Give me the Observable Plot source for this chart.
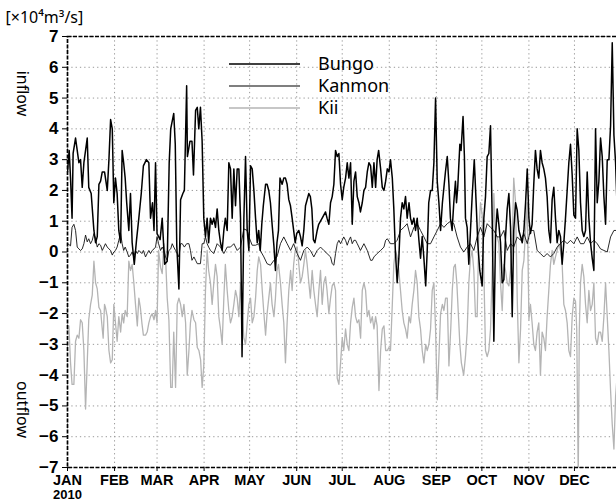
<!DOCTYPE html>
<html><head><meta charset="utf-8">
<script src="https://cdn.jsdelivr.net/npm/d3@7"></script>
<script src="https://cdn.jsdelivr.net/npm/@observablehq/plot@0.6"></script>
<style>html,body{margin:0;padding:0;background:#fff;overflow:hidden}#chart svg{display:block}</style>
</head><body><div id="chart"></div>
<script>
const year = 2010;
const monthLabels = ["JAN","FEB","MAR","APR","MAY","JUN","JUL","AUG","SEP","OCT","NOV","DEC"];
const yTicks = [-7,-6,-5,-4,-3,-2,-1,0,1,2,3,4,5,6,7];
const seriesNames = ["Bungo","Kanmon","Kii"];
const unitLabel = "[×10⁴m³/s]";
const inflowLabel = "inflow";
const outflowLabel = "outflow";

// [day of year (0 = Jan 1), flow ×10^4 m3/s]
const bungo = [[0,2.6],[1.1,3.3],[2,2.4],[3,1.1],[3.7,3.2],[5.3,3.7],[7.5,2.9],[8.6,3.0],[9.7,2.1],[10.8,2.9],[13,3.7],[14,2.1],[15.6,1.9],[17.4,0.7],[18.5,0.3],[19.6,0.5],[20.7,2.2],[21.8,2.3],[22.9,2.6],[24.4,2.6],[26.2,2.0],[27.3,3.0],[28.4,4.3],[29.5,4.0],[30.5,1.6],[31.6,2.4],[32.7,1.9],[33.8,0.7],[35,0.3],[36,3.3],[37,2.9],[38,2.4],[39,1.6],[40.4,0.7],[41.5,1.9],[42.6,0.3],[44,-0.4],[45.5,0.4],[47,1.1],[48.6,1.9],[50,2.8],[52,3.0],[53.6,2.9],[54.7,1.1],[56,1.6],[57,0.7],[58,2.9],[59,0.6],[61,0.4],[62.4,1.1],[64,-0.4],[65.7,-0.3],[67,2.9],[68,4.0],[70,4.5],[71,3.5],[72,0.2],[73.4,-1.2],[74.5,1.7],[76,1.9],[77,2.0],[78.5,5.4],[79,3.1],[80.7,3.6],[82,3.6],[83,2.5],[84.4,4.6],[85.5,4.7],[86.5,4.0],[87.6,4.7],[88.7,3.6],[89.8,1.1],[90.9,0.5],[92,1.1],[93,0.3],[94.2,1.1],[95.3,0.9],[96.4,1.1],[97.5,0.8],[98.6,1.4],[99.7,0.7],[100.8,0.3],[101.9,0.05],[103,0.7],[104,1.1],[105.2,0.7],[106.3,2.9],[107.4,2.7],[108.5,1.1],[109.6,2.7],[110.7,1.5],[111.8,2.7],[112.9,2.7],[114,1.1],[115,-3.4],[116.2,1.1],[117.3,3.1],[118.4,0.7],[119.5,0.05],[120.6,2.8],[121.7,2.7],[122.8,2.0],[123.9,1.1],[125,0.3],[126,0.7],[127,0.05],[128,0.9],[129,1.5],[130.5,2.2],[131.5,2.2],[132.6,2.0],[133.7,1.6],[134.8,0.9],[136,0.2],[137,-0.6],[138,0.3],[139,0.7],[140,2.4],[141.4,2.2],[142.5,2.4],[143.6,2.4],[144.7,2.2],[145.8,1.7],[146.9,1.5],[148,1.1],[149,0.7],[150,0.3],[151,0.6],[152.4,0.7],[153.5,0.5],[154.6,0.2],[155.7,0.7],[156.8,1.5],[159,1.9],[160,1.8],[161,1.4],[162,0.4],[163,0.3],[164.5,0.7],[165.5,0.9],[167.8,1.1],[170,1.3],[171,1.1],[172.2,0.9],[173.3,1.6],[174.4,1.8],[175.5,2.2],[176.6,3.3],[177.7,3.1],[178.8,3.2],[179.9,2.2],[181,1.7],[182,2.1],[183.2,2.4],[184.3,2.9],[185.4,2.4],[186.5,2.9],[187.6,0.9],[188.7,2.3],[189.8,2.6],[190.9,1.8],[192,1.6],[193,1.3],[194.2,1.6],[195.3,2.0],[196.4,2.1],[197.5,2.6],[198.6,2.9],[199.7,2.8],[200.8,2.1],[201.9,2.9],[203,2.1],[204,3.0],[205,3.3],[206.3,2.7],[207.4,2.1],[208.5,2.0],[209.6,2.3],[210.7,2.7],[211.8,2.6],[212.8,3.0],[214,2.4],[215,1.4],[216,0.05],[217.2,-1.0],[218.3,-0.2],[219.4,1.1],[220.5,1.6],[221.6,1.4],[222.7,1.8],[223.8,1.1],[225,1.6],[226,1.1],[227,0.9],[228.2,1.1],[229.3,0.7],[230.4,1.1],[231.5,0.4],[232.6,-0.2],[233.7,0.5],[234.8,-0.2],[236,-1.1],[237,0.05],[238,1.6],[239.2,2.0],[240.3,2.0],[241.4,2.9],[242.5,5.0],[243.6,2.3],[244.7,1.6],[245.8,0.7],[247,1.6],[248,2.1],[249,2.6],[250.2,3.1],[251.3,2.2],[252.3,1.1],[253.4,0.7],[254.5,1.6],[255.6,2.3],[256.3,1.6],[257.1,2.1],[258.5,3.5],[259.3,3.3],[260.6,4.4],[261.5,3.1],[262.2,1.1],[263.3,0.8],[264.4,-0.4],[265.5,0.7],[266.6,1.8],[268,3.0],[269.4,1.4],[270.3,0.3],[271.6,-0.6],[273.2,-1.1],[274.3,1.1],[275.4,1.8],[276.5,3.1],[277.6,3.2],[278.7,4.1],[279.8,1.1],[280.9,-2.9],[282,0.5],[283.1,1.4],[284.2,0.9],[285.3,0.3],[286.4,-1.0],[287.5,-0.9],[288.6,0.5],[289.7,1.4],[290.8,1.9],[291.9,0.8],[293,-2.1],[294,0.7],[295.2,1.6],[296.3,1.35],[297.4,0.7],[298.5,0.5],[299.6,0.3],[300.7,0.7],[301.8,1.6],[302.9,2.7],[304,1.1],[305,0.6],[306.1,0.9],[307.2,2.2],[308.3,3.3],[309.4,2.7],[310.5,2.4],[311.6,3.3],[312.7,2.9],[313.8,2.7],[314.9,2.4],[316,1.8],[317.1,0.7],[318.2,0.3],[319.3,1.7],[320.4,2.1],[321.5,1.1],[322.6,0.3],[323.7,0.7],[324.8,0.5],[325.9,-0.4],[327,0.3],[328.1,1.1],[329.2,2.0],[330.3,2.9],[331.4,3.5],[332.5,2.5],[333.6,1.2],[334.7,1.1],[335.8,4.0],[336.9,3.3],[338,1.6],[339.1,0.7],[340.2,0.5],[341.3,0.7],[342.4,2.6],[343.5,1.1],[344.6,0.3],[345.7,-0.2],[346.8,-0.6],[347.9,4.0],[349,1.6],[350.1,2.3],[351.2,3.7],[352.3,3.1],[353.4,1.8],[354.5,0.9],[355.6,3.0],[356.7,3.0],[357.8,4.1],[358.9,6.8],[360,3.8],[361.1,2.9],[362,1.6]];

const kanmon = [[0.2,0.27],[2,0.2],[3,0.8],[4.2,0.9],[5.3,0.7],[6.4,0.16],[7.5,0.1],[8.6,0.05],[9.7,0.1],[10.8,0.27],[11.9,0.55],[13,0.33],[14,0.43],[15.2,0.27],[16.3,0.38],[17.4,0.6],[18.5,0.43],[19.6,0.16],[20.7,0.27],[21.8,0.22],[22.9,0.05],[24,0.16],[25,0.27],[26.2,0.16],[27.3,0.1],[28.4,0.05],[29.5,-0.1],[30.5,0],[31.6,0.05],[32.7,0.16],[33.8,0.38],[35,0.6],[36,0.27],[37,0.05],[38,0.16],[39.3,0],[40.4,-0.16],[41.5,-0.1],[42.6,0],[43.7,-0.16],[44.8,0.05],[46,-0.05],[47,0.05],[48,0],[49,-0.05],[50,0.05],[51.4,-0.16],[52.5,-0.05],[53.6,0.05],[54.7,-0.05],[55.8,0.05],[57,0.1],[58,0.16],[59,0.5],[60,0.27],[61.3,0.05],[62.4,0.16],[63.5,0.05],[64.6,-0.16],[65.7,-0.27],[66.8,0.05],[68,0.1],[69,0.27],[70,0.16],[71.2,0.05],[72.3,-0.05],[73.4,-0.16],[74.5,0.27],[75.6,0.27],[77,0.16],[78.5,0.27],[80,0.27],[81,0.05],[82,-0.27],[83.3,-0.16],[84.4,-0.27],[85.5,-0.38],[87.6,-0.38],[88.7,0.27],[89.8,0.27],[90.9,0.49],[92,0.27],[93,0.16],[94.2,0.05],[96.4,-0.05],[98.6,0.27],[100.8,0.16],[103,-0.05],[105.2,0.16],[107.4,0.16],[109.6,0.27],[111.8,0.05],[114,0.16],[116.2,0.75],[118.4,0.7],[119.5,0.49],[121.7,0.22],[123.9,0.22],[126,0.27],[127,0.05],[129.4,-0.16],[131.5,-0.38],[133.7,-0.43],[136,-0.27],[138,-0.16],[140.3,0.27],[142.5,0.49],[144.7,0.27],[147,0.05],[149,0.27],[151.3,-0.05],[153.5,-0.27],[155.7,0.05],[157.9,0.16],[160,0.05],[162.3,-0.16],[164.5,0.05],[166.7,0.16],[168.9,0.05],[171,-0.05],[173.3,-0.16],[174.4,-0.38],[175.5,-0.43],[176.6,-0.05],[177.7,0.27],[178.8,0.38],[179.9,0.27],[181,0.38],[182,0.49],[183.2,0.38],[184.3,0.22],[185.4,0.38],[186.5,0.49],[187.6,0.27],[188.7,0.38],[189.8,0.38],[190.9,0.27],[192,0.16],[193,0.05],[195.3,0.27],[197.5,0.05],[199.7,-0.27],[200.8,-0.27],[201.9,-0.16],[204,-0.05],[206.3,0.05],[208.5,0.16],[209.6,0.38],[210.7,0.43],[212.8,0.27],[215,0.27],[217.2,0.38],[219.4,0.7],[221.6,0.8],[223.8,0.92],[226,0.49],[228.2,0.8],[230.4,0.92],[232.6,0.7],[234.8,0.49],[237,0.27],[239.2,0.27],[241.4,0.49],[243.6,0.7],[245.8,0.92],[248,0.8],[250.2,0.92],[252.4,1.0],[254.5,0.92],[256.7,0.49],[258.9,0.16],[261.1,0],[263.3,0.16],[265.5,0.27],[267.7,0.05],[269.9,0.49],[272.1,0.8],[274.3,0.49],[276.5,0.92],[278.7,0.8],[280.9,0.7],[283.1,0.49],[285.3,0.49],[287.5,0.7],[289.7,0.05],[291.9,0.27],[294,0.16],[296.3,0.49],[298.5,0.38],[300.7,0.6],[302.9,0.27],[305,0.7],[307.2,0.7],[309.4,0.05],[311.6,-0.05],[313.8,-0.16],[316,-0.05],[318.2,-0.16],[320.4,-0.05],[322.6,0.16],[324.8,0.27],[327,0.38],[329.2,0.27],[331.4,0.38],[333.6,0.27],[335.8,0.49],[338,0.27],[340.2,0.27],[342.4,0.49],[344.6,0.27],[346.8,0.38],[349,0.27],[351.2,0.1],[353.4,0.05],[355.6,0],[357.8,0.49],[360,0.7],[362,0.7]];

const kii = [[0.9,-2.4],[2,-3.6],[3,-4.3],[4.2,-4.3],[5.3,-2.9],[6.4,-2.7],[7.5,-2.8],[8.6,-2.2],[9.7,-2.3],[10.8,-3.2],[11.9,-5.1],[13,-3.6],[14,-2.2],[15.2,-1.7],[16.3,-1.4],[17.4,-0.3],[18.5,-1.0],[19.6,-1.2],[20.7,-1.8],[21.8,-1.9],[22.9,-2.5],[23.5,-2.8],[24.4,-1.7],[25,-1.8],[26.2,-2.1],[27.3,-3.2],[28.4,-3.6],[29.5,-3.5],[30.5,-1.7],[31.6,-2.3],[32.7,-2.9],[33.8,-2.1],[35,-2.6],[36,-2.0],[37,-2.3],[38,-1.9],[39.3,-2.1],[40.4,-0.3],[41.5,-0.6],[42.6,-0.4],[43.7,-1.0],[44.8,-1.7],[46,-2.4],[47,-1.5],[48,-1.8],[49,-2.3],[50,-2.7],[51.4,-2.7],[52.5,-2.6],[53.6,-2.3],[54.7,-2.1],[55.8,-2.0],[57,-2.2],[58,-1.9],[59,-2.3],[60,0.05],[61.3,-0.5],[62.4,-0.7],[63.5,0.27],[64.6,-0.16],[65.7,-1.5],[66.8,-2.2],[68,-4.4],[69,-4.4],[70,-2.6],[71.2,-4.4],[72.3,-1.7],[73.4,-1.5],[74.5,-1.7],[75.6,-2.1],[76.7,-1.7],[77.8,-2.3],[78.9,-4.0],[80,-3.2],[81,-2.3],[82,-1.9],[83.3,-2.2],[84.4,-2.3],[85.5,-3.1],[86.6,-3.2],[87.7,-3.5],[88.7,-4.4],[89.8,-3.7],[90.9,-1.25],[92,0.05],[93,-0.6],[94.2,-1.0],[95.3,-1.7],[96.4,-1.0],[97.5,-0.4],[98.6,-0.8],[99.7,-2.1],[100.8,-2.5],[101.9,-3.0],[103,-1.5],[104,-0.4],[105.2,-1.25],[106.3,-1.9],[107.4,-2.3],[108.5,-2.1],[109.6,-1.7],[110.7,-1.25],[111.8,-1.5],[112.9,-2.1],[114,-1.0],[115,-1.9],[116.2,-2.8],[117.3,-3.0],[118.4,-2.3],[119.5,-1.7],[120.6,-1.5],[121.7,-2.3],[122.8,-2.1],[123.9,-1.5],[125,-0.6],[126,-0.16],[127.2,-0.4],[128.3,-1.25],[129.4,-2.0],[130.5,-2.7],[131.5,-2.0],[132.6,-1.5],[133.7,-1.0],[134.8,-1.7],[136,-2.1],[137,-1.5],[138,-0.6],[139,-0.4],[140.3,-1.0],[141.4,-1.7],[142.5,-2.3],[143.6,-3.6],[144.7,-2.3],[145.8,-1.25],[147,-0.6],[148,-1.25],[149,-0.4],[150,0.05],[151.3,0.16],[152.4,-0.4],[153.5,-1.0],[154.6,-0.8],[155.7,-0.4],[156.8,0.05],[157.9,-0.4],[159,-1.0],[160,-1.5],[161.2,-0.6],[162.3,-1.25],[163.4,-1.7],[164.5,-2.1],[165.6,-1.25],[166.7,-0.6],[167.8,-1.7],[168.9,-1.0],[170,-0.8],[171,-1.25],[172.2,-2.0],[173.3,-1.5],[174.4,-1.1],[175.5,-1.0],[176.6,-1.25],[177.7,-4.1],[178.8,-4.3],[179.9,-3.6],[181,-2.8],[182,-3.2],[183.2,-2.5],[184.3,-3.0],[185.4,-3.2],[186.5,-2.3],[187.6,-1.8],[188.7,-1.5],[189.8,-2.1],[190.9,-2.3],[192,-2.2],[193.1,-2.8],[194.2,-1.25],[195.3,-1.0],[196.4,-1.25],[197.5,-2.1],[198.6,-1.9],[199.7,-2.3],[200.8,-2.1],[201.9,-2.5],[203,-2.1],[204,-2.4],[205.2,-4.5],[206.3,-3.2],[207.4,-2.5],[208.5,-2.4],[209.6,-3.2],[210.7,-3.2],[211.8,-3.1],[212.8,-3.2],[214,-1.7],[215,-0.4],[216.1,0.05],[217.2,-0.16],[218.3,-0.6],[219.4,-1.25],[220.5,-1.9],[221.6,-2.3],[222.7,-2.5],[223.8,-2.8],[225,-2.1],[226,-2.3],[227.1,-1.7],[228.2,-1.25],[229.3,-0.6],[230.4,-1.0],[231.5,-2.1],[232.6,-2.5],[233.7,-3.2],[234.8,-3.6],[236,-3.0],[237,-3.2],[238.1,-3.0],[239.2,-2.5],[240.3,-1.25],[241.4,-1.0],[242.5,-2.5],[243.6,-4.8],[244.7,-3.4],[245.8,-2.0],[247,-1.7],[248,-1.9],[249.1,-1.5],[250.2,-1.5],[251.3,-3.7],[252.5,-2.5],[253.5,-1.25],[254.5,-0.5],[255.5,-0.4],[256.5,-1.0],[257.5,-2.0],[258.5,-3.0],[259.5,-3.6],[261,-4.0],[262.2,-3.4],[263.3,-2.6],[264.4,-1.0],[265.5,-0.2],[266.6,0.05],[267.7,-0.6],[268.8,-2.1],[269.9,-2.1],[271,0.7],[272.1,1.6],[273.2,1.2],[274.3,-0.6],[275.4,-3.2],[276.5,-3.4],[277.6,-3.2],[278.7,-2.5],[279.8,-0.6],[280.9,1.9],[282,0.5],[283.1,0.5],[284.2,0.27],[285.3,-1.0],[286.4,-1.9],[287.5,-0.4],[288.6,-0.6],[289.7,-1.0],[290.8,-1.1],[291.9,-0.6],[293,0.27],[294,2.4],[295.2,1.6],[296.3,-1.5],[297.4,-3.6],[298.5,-2.5],[299.6,-0.6],[300.7,-0.27],[301.8,0.7],[302.9,1.6],[304,-2.2],[305,-1.7],[306.1,-2.3],[307.2,-3.0],[308.3,-3.2],[309.4,-2.6],[310.5,-2.3],[311.6,-4.0],[312.7,-2.6],[313.8,-2.8],[314.9,-3.2],[316,-2.1],[317.1,-1.25],[318.2,-0.4],[319.3,0.05],[320.4,-0.4],[321.5,-0.16],[322.6,0.05],[323.7,0.27],[324.8,0.05],[325.9,-0.4],[327,-1.7],[328.1,-1.9],[329.2,-2.3],[330.3,-3.2],[331.4,-3.4],[332.5,-2.1],[333.6,-1.5],[334.7,-1.6],[335.5,-2.5],[336.5,-7.3],[337.2,-2.5],[338,-1.0],[339.1,-0.4],[340.2,-0.8],[341.3,-1.7],[342.4,-2.3],[343.5,-1.25],[344.6,-1.9],[345.7,-1.7],[346.8,-1.0],[347.9,-2.8],[349,-3.0],[350.1,-2.6],[351.2,-2.6],[352.3,-2.9],[353.4,-2.1],[354.5,-1.0],[355.6,-2.1],[356.7,-3.2],[357.8,-4.5],[358.9,-5.6],[360,-6.4],[361.1,-4.7],[362,-4.1]];

const seriesColors = ["#000000","#111111","#b4b4b4"];
const seriesWidths = [1.5, 0.9, 1.3];

const t0 = Date.UTC(year, 0, 1);
const toDate = d => new Date(t0 + d * 864e5);
const rows = arr => arr.map(([d, v]) => ({date: toDate(d), value: v}));
const monthDates = monthLabels.map((_, i) => new Date(Date.UTC(year, i, 1)));
const labelFont = "'Noto Sans', 'Open Sans', sans-serif";
const tickFont = "'Liberation Sans Narrow', 'Liberation Sans', Arial, sans-serif";

const plot = Plot.plot({
  width: 616, height: 501,
  marginLeft: 67, marginTop: 36, marginBottom: 34, marginRight: -5,
  style: {fontFamily: "'Liberation Sans', Arial, sans-serif", fontSize: "14px", background: "#fff", color: "#000"},
  x: {type: "utc", domain: [new Date(Date.UTC(year, 0, 1)), new Date(Date.UTC(year + 1, 0, 1))]},
  y: {domain: [-7, 7]},
  marks: [
    Plot.gridY(yTicks, {stroke: "#9a9a9a", strokeOpacity: 1, strokeWidth: 1, strokeDasharray: "1.3,3"}),
    Plot.gridX(monthDates, {stroke: "#9a9a9a", strokeOpacity: 1, strokeWidth: 1, strokeDasharray: "1.3,3"}),
    Plot.line(rows(kii), {x: "date", y: "value", stroke: seriesColors[2], strokeWidth: seriesWidths[2], clip: true}),
    Plot.line(rows(kanmon), {x: "date", y: "value", stroke: seriesColors[1], strokeWidth: seriesWidths[1], clip: true}),
    Plot.line(rows(bungo), {x: "date", y: "value", stroke: seriesColors[0], strokeWidth: seriesWidths[0], clip: true}),
    Plot.frame({stroke: "#000", strokeWidth: 1.7, strokeDasharray: "4,1.5"}),
    Plot.axisY(yTicks, {tickSize: 5, tickPadding: 4, fontSize: 17, fontWeight: "bold", label: null, tickFormat: d => d < 0 ? "\u2212" + Math.abs(d) : String(d)}),
    Plot.axisX(monthDates, {tickSize: 4, tickPadding: 3, fontSize: 14.5, fontWeight: "bold", fontFamily: tickFont, label: null, tickFormat: d => monthLabels[d.getUTCMonth()]}),
    Plot.text([String(year)], {x: () => monthDates[0], text: d => d, frameAnchor: "bottom", dy: 27, lineAnchor: "middle", textAnchor: "middle", fontSize: 13, fontWeight: "bold"}),
    Plot.text([unitLabel], {text: d => d, frameAnchor: "top-left", dx: -62, dy: -19, textAnchor: "start", lineAnchor: "middle", fontSize: 16, fontFamily: labelFont}),
    Plot.text([inflowLabel], {text: d => d, frameAnchor: "top-left", dx: -45, dy: 57, rotate: 90, textAnchor: "middle", lineAnchor: "middle", fontSize: 16, fontFamily: labelFont}),
    Plot.text([outflowLabel], {text: d => d, frameAnchor: "bottom-left", dx: -45, dy: -58, rotate: 90, textAnchor: "middle", lineAnchor: "middle", fontSize: 16, fontFamily: labelFont})
  ]
});

document.getElementById("chart").appendChild(plot);

// Legend
const svg = d3.select(plot);
const lg = svg.append("g");
const legendY = [64, 86, 108];
seriesNames.forEach((name, i) => {
  lg.append("line").attr("x1", 229).attr("x2", 300).attr("y1", legendY[i]).attr("y2", legendY[i])
    .attr("stroke", i === 1 ? "#000" : seriesColors[i]).attr("stroke-width", i === 1 ? 1.2 : 1.5);
  lg.append("text").attr("x", 318).attr("y", legendY[i]).attr("dy", "0.36em")
    .attr("text-anchor", "start")
    .attr("font-family", labelFont).attr("font-size", 18).attr("fill", "#000").text(name);
});
</script>
</body></html>
